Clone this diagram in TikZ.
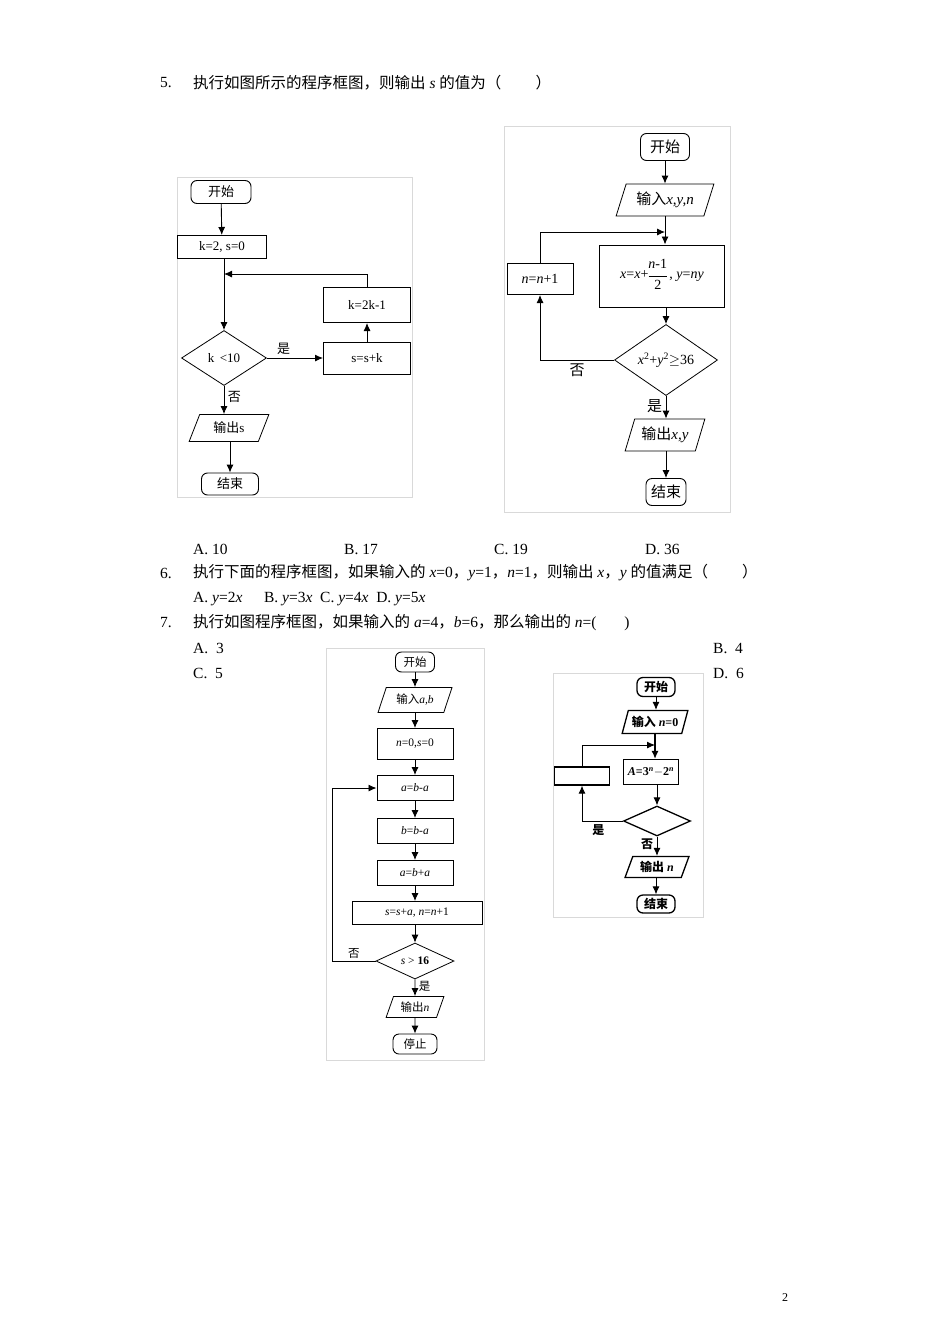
\documentclass[tikz,border=0pt]{standalone}
\usepackage{fontspec}
\setmainfont{Liberation Serif}
\newfontfamily\cjk{Noto Sans CJK SC}
\newcommand\zh[1]{{\cjk #1}}
\newcommand\vi[1]{\textit{#1}}
\usetikzlibrary{shapes.geometric,arrows.meta}
\begin{document}
\begin{tikzpicture}[x=1pt,y=-1pt,
  every node/.style={font=\fontsize{13}{15}\selectfont},
  txt/.style={anchor=west,inner sep=0,font=\fontsize{15.5}{18}\selectfont},
  frame/.style={draw=black!15,line width=0.8pt},
  box/.style={draw,line width=1pt,inner sep=0,minimum width=#1},
  term/.style={draw,line width=0.9pt,rounded corners=6pt,inner sep=0},
  io/.style={draw,line width=0.8pt,trapezium,trapezium left angle=65,trapezium right angle=115,inner sep=0,trapezium stretches=true},
  dec/.style={draw,line width=0.8pt,diamond,inner sep=0},
  arr/.style={-{Latex[length=8pt,width=7pt]},line width=0.9pt},
  ln/.style={line width=0.9pt}]
\useasboundingbox (0,0) rectangle (950,1344);
\fill[white] (0,0) rectangle (950,1344);
% ---- texts
\node[txt] (q5n) at (160,83) {5.};
\node[txt] (q5) at (193,83) {\zh{执行如图所示的程序框图，则输出} \textit{s} \zh{的值为（}\hspace{2.2em}\zh{）}};
\node[txt] (a5a) at (193,549) {A. 10};
\node[txt] (a5b) at (344,549) {B. 17};
\node[txt] (a5c) at (494,549) {C. 19};
\node[txt] (a5d) at (645,549) {D. 36};
\node[txt] (q6n) at (160,573) {6.};
\node[txt] (q6) at (193,573) {\zh{执行下面的程序框图，如果输入的} \textit{x}=0\zh{，}\textit{y}=1\zh{，}\textit{n}=1\zh{，则输出} \textit{x}\zh{，}\textit{y} \zh{的值满足（}\hspace{2.2em}\zh{）}};
\node[txt] (a6) at (193,599) {A. \textit{y}=2\textit{x}\hspace{1.4em}B. \textit{y}=3\textit{x}\hspace{0.5em}C. \textit{y}=4\textit{x}\hspace{0.5em}D. \textit{y}=5\textit{x}};
\node[txt] (q7n) at (160,623) {7.};
\node[txt] (q7) at (193,623) {\zh{执行如图程序框图，如果输入的} \textit{a}=4\zh{，}\textit{b}=6\zh{，那么输出的} \textit{n}=(\hspace{1.8em})};
\node[txt] (a7a) at (193,648) {A.\ \ 3};
\node[txt] (a7b) at (713,648) {B.\ \ 4};
\node[txt] (a7c) at (193,673) {C.\ \ 5};
\node[txt] (a7d) at (713,673) {D.\ \ 6};
\node[txt,font=\fontsize{12}{14}\selectfont] (pg) at (782,1298) {2};
% ---- frames
\draw[frame] (177,177) rectangle (412,497);
\draw[frame] (504,126) rectangle (730,512);
\draw[frame] (326,648) rectangle (484,1060);
\draw[frame] (553,673) rectangle (703,917);
% ---- flowchart 1
\node[term,minimum width=60,minimum height=23] (s1) at (221,192) {\zh{开始}};
\node[box=89,minimum height=23] (i1) at (222,247) {k=2, s=0};
\node[dec,minimum width=85,minimum height=55] (d1) at (224,358) {k \,<10};
\node[box=87,minimum height=32] (b1) at (367,358) {s=s+k};
\node[box=87,minimum height=35] (c1) at (367,305) {k=2k-1};
\node[io,minimum width=80,minimum height=27] (o1) at (229,428) {\zh{输出}s};
\node[term,minimum width=57,minimum height=22] (e1) at (230,484) {\zh{结束}};
\coordinate (j1) at (224,274);
\draw[arr] (s1) -- (i1);
\draw[arr] (i1.south -| d1.north) -- (d1.north);
\draw[arr] (c1.north) |- (j1);
\draw[arr] (d1.east) -- node[above,pos=0.3]{\zh{是}} (b1.west);
\draw[arr] (b1) -- (c1);
\draw[arr] (d1.south) -- node[right,pos=0.4]{\zh{否}} (d1.south |- o1.north);
\draw[arr] (o1.south -| e1.north) -- (e1.north);
% ---- flowchart 2
\node[term,minimum width=49,minimum height=27,font=\fontsize{15}{17}\selectfont] (s2) at (665,147) {\zh{开始}};
\node[io,minimum width=98,minimum height=32,font=\fontsize{15}{17}\selectfont] (i2) at (665,200) {\zh{输入}\vi{x,y,n}};
\node[box=125,minimum height=62,font=\fontsize{14}{15}\selectfont] (b2) at (662,276) {\vi{x}=\vi{x}+\raisebox{-0.1ex}{\begin{tabular}{@{}c@{}}\vi{n}-1\\[-4pt]\rule[3pt]{1.3em}{0.5pt}\\[-5pt]2\end{tabular}}\,, \vi{y}=\vi{ny}};
\node[dec,minimum width=103,minimum height=60,font=\fontsize{14}{16}\selectfont] (d2) at (666,360) {\vi{x}\textsuperscript{2}+\vi{y}\textsuperscript{2}$\geq$36};
\node[box=66,minimum height=31,font=\fontsize{14}{16}\selectfont] (n2) at (540,279) {\vi{n}=\vi{n}+1};
\node[io,minimum width=80,minimum height=32,font=\fontsize{15}{17}\selectfont] (o2) at (665,435) {\zh{输出}\vi{x,y}};
\node[term,minimum width=40,minimum height=27,font=\fontsize{15}{17}\selectfont] (e2) at (666,492) {\zh{结束}};
\coordinate (j2) at (665,232);
\draw[arr] (s2) -- (i2);
\draw[arr] (i2.south) -- (i2.south |- b2.north);
\draw[arr] (b2.south -| d2.north) -- (d2.north);
\draw[arr] (d2.west) -| node[below,pos=0.25,font=\fontsize{15}{17}\selectfont]{\zh{否}} (n2.south);
\draw[arr] (n2.north) |- (j2);
\draw[arr] (d2.south) -- node[left,pos=0.45,font=\fontsize{15}{17}\selectfont]{\zh{是}} (d2.south |- o2.north);
\draw[arr] (o2.south -| e2.north) -- (e2.north);
% ---- flowchart 3
\begin{scope}[every node/.append style={font=\fontsize{11.5}{13}\selectfont}]
\node[term,minimum width=39,minimum height=20] (s3) at (415,662) {\zh{开始}};
\node[io,minimum width=74,minimum height=25] (i3) at (415,700) {\zh{输入}\vi{a,b}};
\node[box=76,minimum height=31] (p3) at (415,744) {\vi{n}=0,\vi{s}=0};
\node[box=76,minimum height=25] (q3) at (415,788) {\vi{a}=\vi{b}-\vi{a}};
\node[box=76,minimum height=25] (r3) at (415,831) {\vi{b}=\vi{b}-\vi{a}};
\node[box=76,minimum height=25] (t3) at (415,873) {\vi{a}=\vi{b}+\vi{a}};
\node[box=130,minimum height=23] (u3) at (417,913) {\vi{s}=\vi{s}+\vi{a}, \vi{n}=\vi{n}+1};
\node[dec,minimum width=78,minimum height=36] (d3) at (415,961) {\vi{s} > \textbf{16}};
\node[io,minimum width=58,minimum height=21] (o3) at (415,1007) {\zh{输出}\vi{n}};
\node[term,minimum width=44,minimum height=20] (e3) at (415,1044) {\zh{停止}};
\coordinate (l3) at (332,961);
\draw[arr] (s3) -- (i3);
\draw[arr] (i3) -- (p3);
\draw[arr] (p3) -- (q3);
\draw[arr] (q3) -- (r3);
\draw[arr] (r3) -- (t3);
\draw[arr] (t3.south) -- (t3.south |- u3.north);
\draw[arr] (u3.south -| d3.north) -- (d3.north);
\draw[ln] (d3.west) -- node[above,pos=0.5,yshift=-1]{\zh{否}} (l3);
\draw[arr] (l3) |- (q3.west);
\draw[arr] (d3.south) -- node[right,pos=0.4]{\zh{是}} (o3.north);
\draw[arr] (o3) -- (e3);
\end{scope}
% ---- flowchart 4
\begin{scope}[every node/.append style={font=\fontsize{12}{13}\selectfont\bfseries}]
\node[term,line width=1.3pt,minimum width=38,minimum height=19] (s4) at (656,687) {\zh{开始}};
\node[io,line width=1.3pt,minimum width=66,minimum height=23] (i4) at (655,722) {\zh{输入} \vi{n}=0};
\node[box=55,line width=1.3pt,minimum height=25] (a4) at (651,772) {\vi{A}=3\textsuperscript{\vi{n}}$-$2\textsuperscript{\vi{n}}};
\node[box=55,line width=1.3pt,minimum height=18] (x4) at (582,776) {};
\node[dec,line width=1.3pt,minimum width=67,minimum height=30] (d4) at (657,821) {};
\node[io,line width=1.3pt,minimum width=64,minimum height=21] (o4) at (657,867) {\zh{输出} \vi{n}};
\node[term,line width=1.3pt,minimum width=38,minimum height=18] (e4) at (656,904) {\zh{结束}};
\coordinate (j4) at (655,745);
\draw[arr] (s4) -- (s4 |- i4.north);
\draw[arr,line width=1.2pt] (i4.south) -- (i4.south |- a4.north);
\draw[arr] (a4.south -| d4.north) -- (d4.north);
\draw[arr] (d4.west) -| node[below,pos=0.3]{\zh{是}} (x4.south);
\draw[arr] (x4.north) |- (j4);
\draw[arr] (d4.south) -- node[left,pos=0.4]{\zh{否}} (d4.south |- o4.north);
\draw[arr] (o4.south -| e4.north) -- (e4.north);
\end{scope}
\end{tikzpicture}
\end{document}
